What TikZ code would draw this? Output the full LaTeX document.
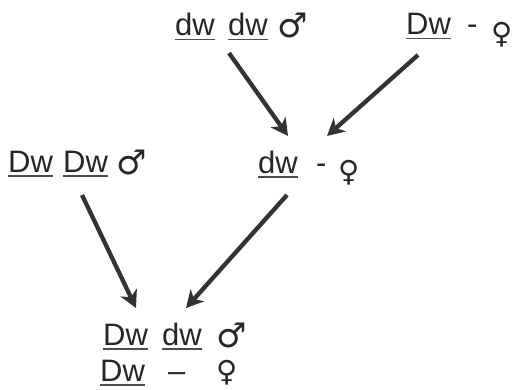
\documentclass[tikz,border=0pt]{standalone}
\usepackage{fontspec}
\setmainfont{Liberation Sans}
\newfontfamily\symfont{DejaVu Sans}
\usetikzlibrary{arrows.meta,calc}
\newsavebox\genebox
\newcommand\gene[1]{\sbox\genebox{#1}\rlap{\color{black!70}\rule[-4.5pt]{\wd\genebox}{1.5pt}}\usebox\genebox}
\newcommand\malesym{\raisebox{-2pt}{\symfont\fontsize{34}{38}\selectfont ♂}}
\newcommand\femalesym[1][10pt]{\raisebox{-#1}{\symfont\fontsize{29}{32}\selectfont ♀}}
\tikzset{
  geno/.style={inner sep=0pt, anchor=base west, text=black!85, font=\fontsize{31}{38}\selectfont},
  line/.style={-{Stealth[length=17pt,width=18pt,inset=5pt]}, line width=4.3pt, draw=black!80}
}
\begin{document}
\begin{tikzpicture}[x=1pt,y=-1pt]
  \useasboundingbox (0,0) rectangle (513,390);
  % parents
  \node[geno] (pdd) at (175,36) {\makebox[53pt][l]{\gene{dw}}\makebox[49pt][l]{\gene{dw}}\malesym};
  \node[geno] (pDf) at (406,35) {\makebox[61pt][l]{\gene{Dw}}\makebox[24pt][l]{-}\femalesym[9pt]};
  \node[geno] (pDD) at (8,172) {\makebox[55pt][l]{\gene{Dw}}\makebox[53pt][l]{\gene{Dw}}\malesym};
  \node[geno] (fdd) at (258,173) {\makebox[58pt][l]{\gene{dw}}\makebox[22pt][l]{-}\femalesym[8pt]};
  % offspring
  \node[geno] (offm) at (103,345) {\makebox[59pt][l]{\gene{Dw}}\makebox[54pt][l]{\gene{dw}}\malesym};
  \node[geno] (offf) at (100,381) {\makebox[62pt][l]{\gene{Dw}}\makebox[54pt][l]{\hspace{6pt}--}\femalesym[0pt]};
  % crosses
  \draw[line] ($(pdd.base west)+(54,17)$) -- ($(fdd.base west)+(30,-37)$);
  \draw[line] ($(pDf.base west)+(12,20)$) -- ($(fdd.base west)+(69,-37)$);
  \draw[line] ($(pDD.base west)+(74,23)$) -- ($(offm.base west)+(33,-37)$);
  \draw[line] ($(fdd.base west)+(29,22)$) -- ($(offm.base west)+(83,-37)$);
\end{tikzpicture}
\end{document}
